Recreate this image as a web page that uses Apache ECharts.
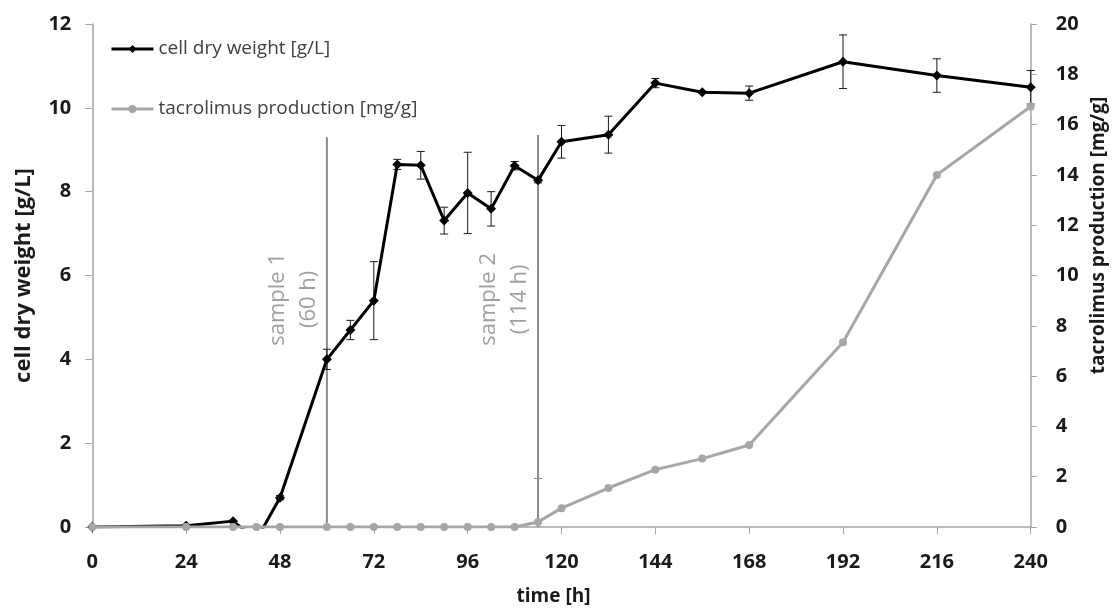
<!DOCTYPE html>
<html>
<head>
<meta charset="utf-8">
<script src="https://cdn.jsdelivr.net/npm/echarts@6/dist/echarts.min.js"></script>
<style>
html,body{margin:0;padding:0;background:#fff;}
#c{width:1118px;height:611px;}
</style>
</head>
<body>
<div id="c"></div>
<script>
// ---- data ----
const hours = [0,24,36,42,48,60,66,72,78,84,90,96,102,108,114,120,132,144,156,168,192,216,240];
const cellDryWeight = [0,0.03,0.14,-0.3,0.7,4.0,4.7,5.4,8.65,8.63,7.31,7.97,7.59,8.62,8.27,9.19,9.36,10.59,10.37,10.35,11.10,10.77,10.49];
const cellDryWeightErr = [0,0,0.02,0,0.05,0.24,0.23,0.93,0.12,0.33,0.32,0.97,0.41,0.10,0.06,0.39,0.44,0.11,0.03,0.17,0.64,0.40,0.40];
const tacrolimus = [0,0,0,0,0,0,0,0,0,0,0,0,0,0,0.2,0.75,1.55,2.28,2.72,3.26,7.35,14.0,16.72];
const tacrolimusErr = [0,0,0,0,0,0,0,0,0,0,0,0,0,0,1.73,0,0,0,0,0,0,0,0];
const sampleTimes = [60,114];
const sampleTops = [9.3,9.35];
const sampleLabels = ['sample 1\n(60 h)','sample 2\n(114 h)'];
const sampleLabelY = 5.43;
const xTicks = [0,24,48,72,96,120,144,168,192,216,240];
const seriesNames = ['cell dry weight [g/L]','tacrolimus production [mg/g]'];

const FONT = '"Open Sans", sans-serif';
const AXIS_COLOR = '#a6a6a6';
const GRAY = '#a6a6a6';

const cdwData = hours.map((h,i)=>[h, cellDryWeight[i]]);
const tacData = hours.map((h,i)=>[h, tacrolimus[i]]);
const cdwErrData = hours.map((h,i)=>[h, cellDryWeight[i], cellDryWeightErr[i]]);
const tacErrData = hours.map((h,i)=>[h, tacrolimus[i], tacrolimusErr[i]]);
const sampleData = sampleTimes.map((t,i)=>[t, sampleTops[i]]);

function errRender(color){
  return function(params, api){
    const x = api.value(0), y = api.value(1), e = api.value(2);
    if (!e) return null;
    const lowV = Math.max(0, y - e);
    const hi = api.coord([x, y + e]);
    const lo = api.coord([x, lowV]);
    const w = 4;
    const children = [
      {type:'line', shape:{x1:hi[0],y1:hi[1],x2:lo[0],y2:lo[1]}, style:{stroke:color,lineWidth:1}},
      {type:'line', shape:{x1:hi[0]-w,y1:hi[1],x2:hi[0]+w,y2:hi[1]}, style:{stroke:color,lineWidth:1}}
    ];
    if (y - e >= 0) {
      children.push({type:'line', shape:{x1:lo[0]-w,y1:lo[1],x2:lo[0]+w,y2:lo[1]}, style:{stroke:color,lineWidth:1}});
    }
    return {type:'group', children};
  };
}

function sampleRender(params, api){
  const x = api.value(0), top = api.value(1);
  const p0 = api.coord([x, 0]);
  const p1 = api.coord([x, top]);
  const pl = api.coord([x, sampleLabelY]);
  return {type:'group', children:[
    {type:'line', shape:{x1:p0[0],y1:p0[1],x2:p1[0],y2:p1[1]}, style:{stroke:'#8c8c8c',lineWidth:2}},
    {type:'text', x:pl[0]-3, y:pl[1], rotation:Math.PI/2,
      style:{text:sampleLabels[params.dataIndex], x:0, y:0, textAlign:'center', textVerticalAlign:'bottom',
        fill:'#a0a0a0', font:'22px "Open Sans", sans-serif', lineHeight:31, align:'center', verticalAlign:'bottom'}}
  ]};
}

const chart = echarts.init(document.getElementById('c'), null, {renderer:'canvas'});
chart.setOption({
  animation:false,
  backgroundColor:'#fff',
  grid:{left:92.3, right:87.3, top:24, bottom:82.5, containLabel:false},
  legend:{
    orient:'vertical', left:105, top:32, itemWidth:42, itemHeight:10, itemGap:36,
    data:seriesNames,
    lineStyle:{width:3},
    textStyle:{fontFamily:FONT, fontSize:19, color:'#404040', lineHeight:24}
  },
  xAxis:{
    type:'value', min:0, max:240, interval:24,
    name:'time [h]', nameLocation:'middle', nameGap:60,
    nameTextStyle:{fontFamily:FONT, fontWeight:'bold', fontSize:19, color:'#1a1a1a', padding:[0,16,0,0]},
    axisLine:{lineStyle:{color:AXIS_COLOR, width:1.5}},
    axisTick:{show:true, length:7, lineStyle:{color:AXIS_COLOR}},
    axisLabel:{margin:25, fontFamily:FONT, fontWeight:'bold', fontSize:20, color:'#1a1a1a',
      formatter:v=> xTicks.indexOf(v)>=0 ? String(v) : ''},
    splitLine:{show:false}
  },
  yAxis:[
    {type:'value', min:0, max:12, interval:2, position:'left',
      name:'cell dry weight [g/L]', nameLocation:'middle', nameGap:58, nameRotate:90,
      nameTextStyle:{fontFamily:FONT, fontWeight:'bold', fontSize:22, color:'#1a1a1a'},
      axisLine:{show:true, lineStyle:{color:AXIS_COLOR, width:1.5}},
      axisTick:{show:true, length:7, lineStyle:{color:AXIS_COLOR}},
      axisLabel:{margin:21, fontFamily:FONT, fontWeight:'bold', fontSize:20, color:'#1a1a1a'},
      splitLine:{show:false}},
    {type:'value', min:0, max:20, interval:2, position:'right',
      name:'tacrolimus production [mg/g]', nameLocation:'middle', nameGap:58, nameRotate:90,
      nameTextStyle:{fontFamily:FONT, fontWeight:'bold', fontSize:19, color:'#1a1a1a', padding:[0,0,0,80]},
      axisLine:{show:true, lineStyle:{color:AXIS_COLOR, width:1.5}},
      axisTick:{show:true, length:6, lineStyle:{color:AXIS_COLOR}},
      axisLabel:{margin:25, fontFamily:FONT, fontWeight:'bold', fontSize:20, color:'#1a1a1a'},
      splitLine:{show:false}}
  ],
  series:[
    {type:'custom', name:'samples', yAxisIndex:0, data:sampleData, renderItem:sampleRender, silent:true, z:1},
    {type:'custom', name:'cdwErr', yAxisIndex:0, data:cdwErrData, renderItem:errRender('#1a1a1a'), silent:true, z:2},
    {type:'line', name:seriesNames[0], yAxisIndex:0, data:cdwData, clip:true,
      symbol:'diamond', symbolSize:10, showAllSymbol:true,
      lineStyle:{color:'#000', width:3}, itemStyle:{color:'#000'}, z:3},
    {type:'custom', name:'tacErr', yAxisIndex:1, data:tacErrData, renderItem:errRender('#8c8c8c'), silent:true, z:4},
    {type:'line', name:seriesNames[1], yAxisIndex:1, data:tacData, clip:true,
      symbol:'circle', symbolSize:8, showAllSymbol:true,
      lineStyle:{color:GRAY, width:3}, itemStyle:{color:GRAY}, z:5}
  ]
});
</script>
</body>
</html>
